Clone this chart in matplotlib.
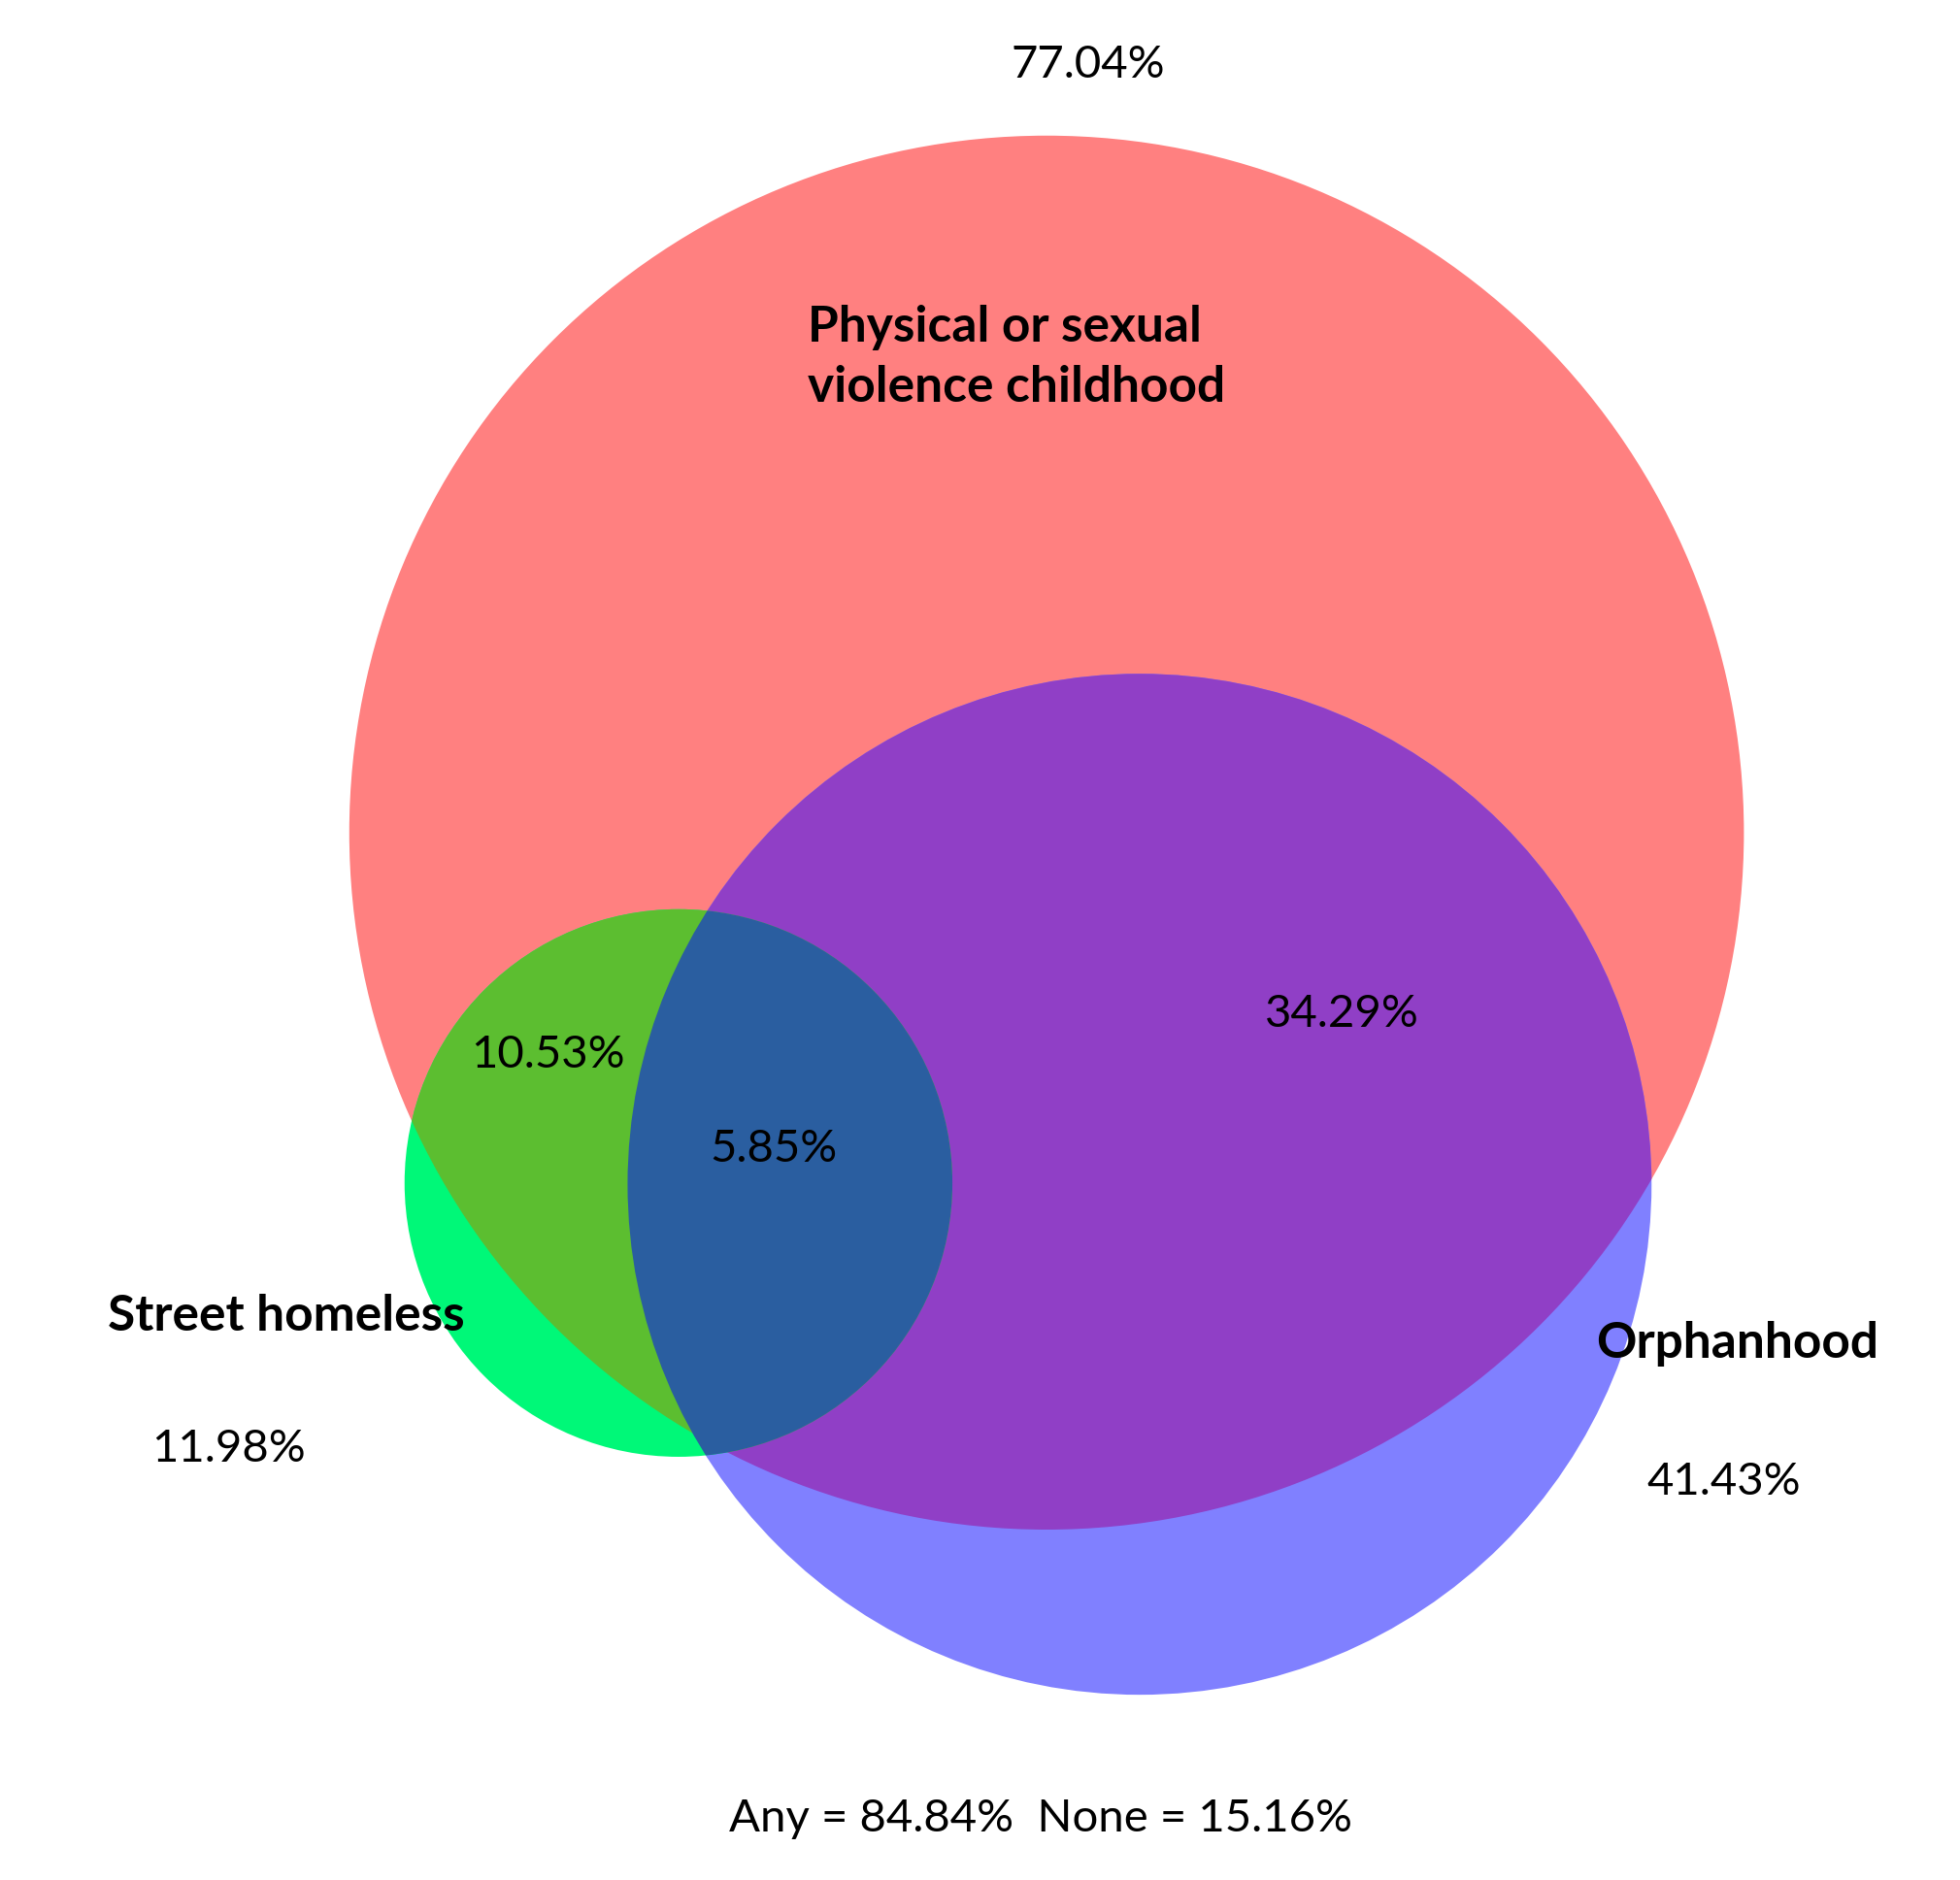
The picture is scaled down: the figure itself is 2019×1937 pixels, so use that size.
import matplotlib
matplotlib.use("Agg")
import matplotlib.pyplot as plt
from matplotlib.patches import Ellipse

sets = ["Physical or sexual\nviolence childhood", "Orphanhood", "Street homeless"]
totals = ["77.04%", "41.43%", "11.98%"]
overlaps = ["34.29%", "10.53%", "5.85%"]
footer = "Any = 84.84%  None = 15.16%"

W, H = 1560, 1497
fig = plt.figure(figsize=(20.19, 19.37), dpi=100)
ax = fig.add_axes([0, 0, 1, 1])
ax.set_xlim(0, W); ax.set_ylim(H, 0); ax.axis("off")

def ell(c, w, h, col, clip=None):
    e = Ellipse(c, w, h, facecolor=col, edgecolor="none")
    ax.add_patch(e)
    if clip is not None:
        cp = Ellipse(clip[0], clip[1], clip[2], transform=ax.transData)
        e.set_clip_path(cp)
    return e

R = ((833, 663), 1110, 1110)
B = ((907, 943), 815, 813)
G = ((540, 942), 436, 436)
ell(*R, "#FF8080")
ell(*B, "#8080FF")
ell(*G, "#00F878")
ell(*B, "#903FC6", clip=R)
ell(*G, "#5CBE30", clip=R)
ell(*G, "#2A5EA0", clip=B)

fam = ["Lato", "DejaVu Sans"]
ax.text(866, 52, totals[0], fontsize=34, ha="center", va="center", family=fam)
ax.text(643, 285, sets[0], fontsize=37, fontweight="bold", ha="left", va="center", family=fam, linespacing=1.4)
ax.text(1068, 808, overlaps[0], fontsize=34, ha="center", va="center", family=fam)
ax.text(436, 840, overlaps[1], fontsize=34, ha="center", va="center", family=fam)
ax.text(616, 915, overlaps[2], fontsize=34, ha="center", va="center", family=fam)
ax.text(228, 1048, sets[2], fontsize=37, fontweight="bold", ha="center", va="center", family=fam)
ax.text(182, 1154, totals[2], fontsize=34, ha="center", va="center", family=fam)
ax.text(1383, 1070, sets[1], fontsize=37, fontweight="bold", ha="center", va="center", family=fam)
ax.text(1372, 1180, totals[1], fontsize=34, ha="center", va="center", family=fam)
ax.text(828, 1448, footer, fontsize=34, ha="center", va="center", family=fam)

fig.savefig("out.png", dpi=100)
